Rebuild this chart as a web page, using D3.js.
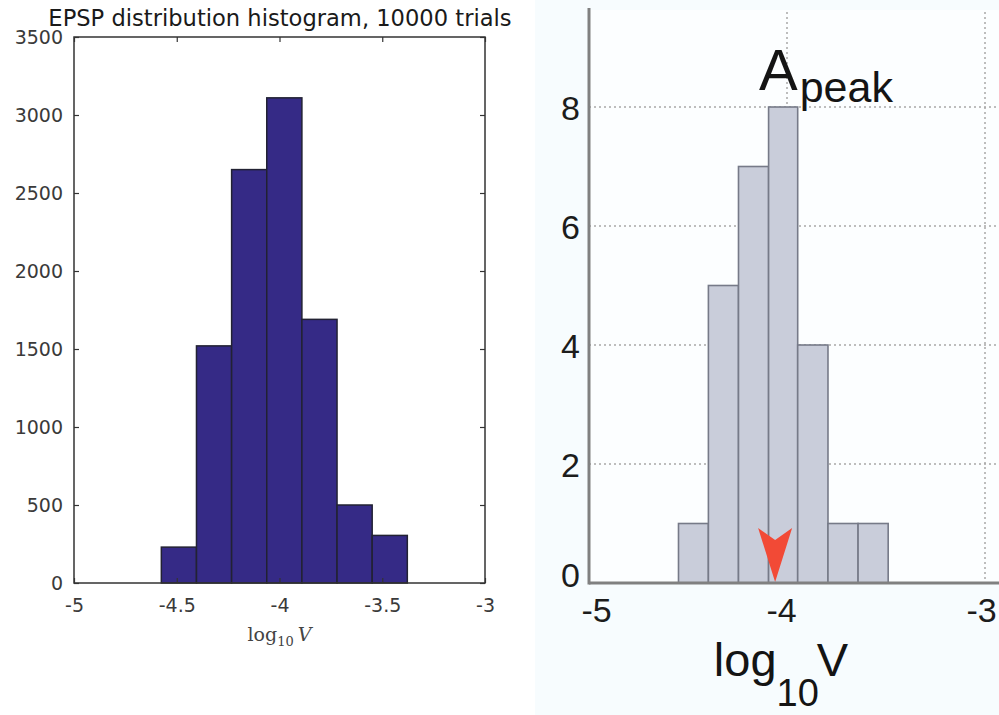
<!DOCTYPE html>
<html>
<head>
<meta charset="utf-8">
<script src="https://cdn.jsdelivr.net/npm/d3@7"></script>
<style>
  body { margin: 0; background: #fff; }
  svg { display: block; }
</style>
</head>
<body>
<div class="plot"></div>
<script>
// Left histogram (simulation, 10000 trials)
const leftEdges = [-4.575, -4.404, -4.233, -4.062, -3.891, -3.720, -3.549, -3.378];
const leftCounts = [230, 1520, 2650, 3110, 1690, 500, 305];
const leftXTicks = [-5, -4.5, -4, -3.5, -3];
const leftYTicks = [0, 500, 1000, 1500, 2000, 2500, 3000, 3500];
const leftTitle = "EPSP distribution histogram, 10000 trials";

// Right histogram (measured A_peak)
const rightEdges = [-4.548, -4.397, -4.245, -4.093, -3.946, -3.793, -3.641, -3.489];
const rightCounts = [1, 5, 7, 8, 4, 1, 1];
const rightXTicks = [-5, -4, -3];
const rightYTicks = [0, 2, 4, 6, 8];
const rightGridY = [2, 4, 6, 8];
const rightGridX = [-4, -3];
const peakMarker = -4.06;

const W = 999, H = 715;

const svg = d3.select(".plot")
    .append("svg")
        .attr("width", W)
        .attr("height", H);

// ---------- left panel ----------
const xL = d3.scaleLinear().domain([-5, -3]).range([74, 485]);
const yL = d3.scaleLinear().domain([0, 3500]).range([583, 37]);

const left = svg.append("g");

const binsL = leftCounts.map((c, i) => ({x0: leftEdges[i], x1: leftEdges[i + 1], n: c}));

left.selectAll("rect.bar")
    .data(binsL)
    .enter()
    .append("rect")
        .attr("class", "bar")
        .attr("x", d => xL(d.x0))
        .attr("width", d => xL(d.x1) - xL(d.x0))
        .attr("y", d => yL(d.n))
        .attr("height", d => yL(0) - yL(d.n))
        .attr("fill", "#352a86")
        .attr("stroke", "#222233")
        .attr("stroke-width", 1.5);

// box
left.append("rect")
    .attr("x", xL(-5))
    .attr("y", yL(3500))
    .attr("width", xL(-3) - xL(-5))
    .attr("height", yL(0) - yL(3500))
    .attr("fill", "none")
    .attr("stroke", "#333")
    .attr("stroke-width", 1.5);

const styleAxis = function(g, size) {
    g.select(".domain").remove();
    g.selectAll("line").attr("stroke", "#333").attr("stroke-width", 1.2);
    g.selectAll("text")
        .attr("fill", "#3a3a3a")
        .style("font-family", "'DejaVu Sans', sans-serif")
        .style("font-size", size);
};

left.append("g")
    .attr("transform", `translate(0,${yL(0)})`)
    .call(d3.axisBottom(xL).tickValues(leftXTicks).tickSize(-5).tickPadding(16).tickFormat(d => d))
    .call(g => styleAxis(g, "19px"));

left.append("g")
    .attr("transform", `translate(0,${yL(3500)})`)
    .call(d3.axisTop(xL).tickValues(leftXTicks).tickSize(-5).tickFormat(""))
    .call(g => styleAxis(g, "19px"));

left.append("g")
    .attr("transform", `translate(${xL(-5)},0)`)
    .call(d3.axisLeft(yL).tickValues(leftYTicks).tickSize(-5).tickPadding(11).tickFormat(d => d))
    .call(g => styleAxis(g, "19px"))
    .selectAll("text").attr("dy", "0.36em");

left.append("g")
    .attr("transform", `translate(${xL(-3)},0)`)
    .call(d3.axisRight(yL).tickValues(leftYTicks).tickSize(-5).tickFormat(""))
    .call(g => styleAxis(g, "19px"));

// title
left.append("text")
    .attr("x", 280)
    .attr("y", 26)
    .attr("text-anchor", "middle")
    .style("font-family", "'DejaVu Sans', sans-serif")
    .style("font-size", "22.6px")
    .attr("fill", "#1a1a1a")
    .text(leftTitle);

// x label (serif, math style)
const xlabL = left.append("text")
    .attr("x", xL(-4))
    .attr("y", 641)
    .attr("text-anchor", "middle")
    .attr("fill", "#444")
    .style("font-family", "'DejaVu Serif', 'Liberation Serif', serif")
    .style("font-size", "19px");
xlabL.append("tspan").text("log");
xlabL.append("tspan").attr("dy", 5).style("font-size", "13px").text("10");
xlabL.append("tspan").attr("dy", -5).attr("dx", 4).style("font-style", "italic").text("V");

// ---------- right panel ----------
const xR = d3.scaleLinear().domain([-5, -3]).range([589, 985]);
const yR = d3.scaleLinear().domain([0, 8]).range([583, 107]);

const right = svg.append("g");

right.append("rect")
    .attr("x", 535)
    .attr("y", 0)
    .attr("width", W - 535)
    .attr("height", H)
    .attr("fill", "#f7fcfe");

right.append("rect")
    .attr("x", xR(-5))
    .attr("y", 10)
    .attr("width", W - xR(-5))
    .attr("height", yR(0) - 10)
    .attr("fill", "#fcfeff");

// dotted grid
right.selectAll("line.gy")
    .data(rightGridY)
    .enter()
    .append("line")
        .attr("class", "gy")
        .attr("x1", xR(-5))
        .attr("x2", W)
        .attr("y1", d => yR(d))
        .attr("y2", d => yR(d))
        .attr("stroke", "#a8a8a8")
        .attr("stroke-width", 1.5)
        .attr("stroke-dasharray", "2,3");

right.selectAll("line.gx")
    .data(rightGridX)
    .enter()
    .append("line")
        .attr("class", "gx")
        .attr("x1", d => xR(d))
        .attr("x2", d => xR(d))
        .attr("y1", 12)
        .attr("y2", yR(0))
        .attr("stroke", "#a8a8a8")
        .attr("stroke-width", 1.5)
        .attr("stroke-dasharray", "2,3");

const binsR = rightCounts.map((c, i) => ({x0: rightEdges[i], x1: rightEdges[i + 1], n: c}));

right.selectAll("rect.bar")
    .data(binsR)
    .enter()
    .append("rect")
        .attr("class", "bar")
        .attr("x", d => xR(d.x0))
        .attr("width", d => xR(d.x1) - xR(d.x0))
        .attr("y", d => yR(d.n))
        .attr("height", d => yR(0) - yR(d.n))
        .attr("fill", "#c9cdda")
        .attr("stroke", "#767a88")
        .attr("stroke-width", 1.6);

// red marker for the peak value
const mx = xR(peakMarker), my = yR(0);
right.append("path")
    .attr("d", `M${mx - 17},${my - 55} L${mx},${my - 43} L${mx + 17},${my - 55} L${mx},${my - 1} Z`)
    .attr("fill", "#f24a36");

// axes lines
right.append("line")
    .attr("x1", xR(-5)).attr("x2", W)
    .attr("y1", yR(0)).attr("y2", yR(0))
    .attr("stroke", "#808080").attr("stroke-width", 3);
right.append("line")
    .attr("x1", xR(-5)).attr("x2", xR(-5))
    .attr("y1", 8).attr("y2", yR(0) + 1.5)
    .attr("stroke", "#808080").attr("stroke-width", 3);

const styleAxisR = function(g) {
    g.select(".domain").remove();
    g.selectAll("line").remove();
    g.selectAll("text")
        .attr("fill", "#1c1c1c")
        .style("font-family", "'Liberation Sans', Arial, sans-serif")
        .style("font-size", "34px");
};

right.append("g")
    .attr("transform", `translate(0,${yR(0)})`)
    .call(d3.axisBottom(xR).tickValues(rightXTicks).tickSize(0).tickPadding(15).tickFormat(d => d))
    .call(styleAxisR)
    .selectAll("text")
        .attr("dx", d => d === -5 ? 7 : (d === -3 ? -4 : -6));

right.append("g")
    .attr("transform", `translate(${xR(-5)},0)`)
    .call(d3.axisLeft(yR).tickValues(rightYTicks).tickSize(0).tickPadding(9))
    .call(styleAxisR)
    .selectAll("text")
        .attr("dy", d => d === 0 ? "0.1em" : "0.36em");

// A_peak label
const apeak = right.append("text")
    .attr("x", 759)
    .attr("y", 90)
    .attr("fill", "#141414")
    .style("font-family", "'Liberation Sans', Arial, sans-serif")
    .style("font-size", "58px");
apeak.append("tspan").text("A");
apeak.append("tspan").attr("dy", 12).attr("dx", 2).style("font-size", "43px").text("peak");

// x label
const xlabR = right.append("text")
    .attr("x", 781)
    .attr("y", 676)
    .attr("text-anchor", "middle")
    .attr("fill", "#141414")
    .style("font-family", "'Liberation Sans', Arial, sans-serif")
    .style("font-size", "47px");
xlabR.append("tspan").text("log");
xlabR.append("tspan").attr("dy", 30).style("font-size", "38px").text("10");
xlabR.append("tspan").attr("dy", -30).attr("dx", -2).text("V");
</script>
</body>
</html>
